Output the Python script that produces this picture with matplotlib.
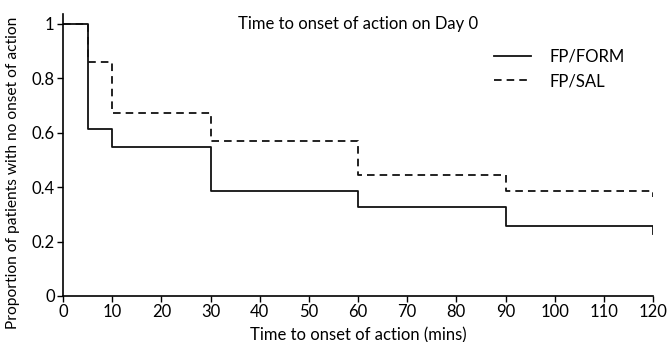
import matplotlib
matplotlib.use("Agg")
import matplotlib.pyplot as plt
import matplotlib.ticker as mticker

# datos
tiempos = [0, 5, 10, 30, 60, 90, 120, 120]
form = [1.0, 0.615, 0.547, 0.385, 0.326, 0.257, 0.257, 0.226]
sal = [1.0, 0.858, 0.671, 0.569, 0.443, 0.387, 0.387, 0.362]
xticks = list(range(0, 121, 10))
yticks = [0, 0.2, 0.4, 0.6, 0.8, 1.0]

plt.rcParams["font.family"] = ["Lato", "DejaVu Sans"]
fs = 12

fig = plt.figure(figsize=(6.69, 3.42), dpi=100)
ax = fig.add_axes([63 / 669, 1 - 296 / 342, 590 / 669, 282 / 342])

ax.plot(tiempos, form, drawstyle="steps-post", color="#111111", lw=1.3,
        label="FP/FORM")
ax.plot(tiempos, sal, drawstyle="steps-post", color="#111111", lw=1.3,
        ls=(0, (4.2, 2.8)), label="FP/SAL")

ax.set_xlim(0, 120)
ax.set_ylim(0, 1.036)
ax.set_xticks(xticks)
ax.set_yticks(yticks)
ax.yaxis.set_major_formatter(mticker.FuncFormatter(lambda v, p: f"{v:g}"))
ax.tick_params(labelsize=fs, length=4, width=1, direction="out", pad=2)
for s in ["top", "right"]:
    ax.spines[s].set_visible(False)
for s in ["left", "bottom"]:
    ax.spines[s].set_linewidth(1.2)

ax.set_xlabel("Time to onset of action (mins)", fontsize=fs, labelpad=5)
ax.set_ylabel("Proportion of patients with no onset of action", fontsize=11.2)
ax.yaxis.set_label_coords(-0.073, 0.436)
ax.text(60, 1.0, "Time to onset of action on Day 0", ha="center", va="center",
        fontsize=fs)

ax.legend(loc="upper left", bbox_to_anchor=(0.705, 0.93), frameon=False,
          fontsize=fs, handlelength=2.25, handletextpad=1.1, labelspacing=0.5)

fig.savefig("out.png", dpi=100)
